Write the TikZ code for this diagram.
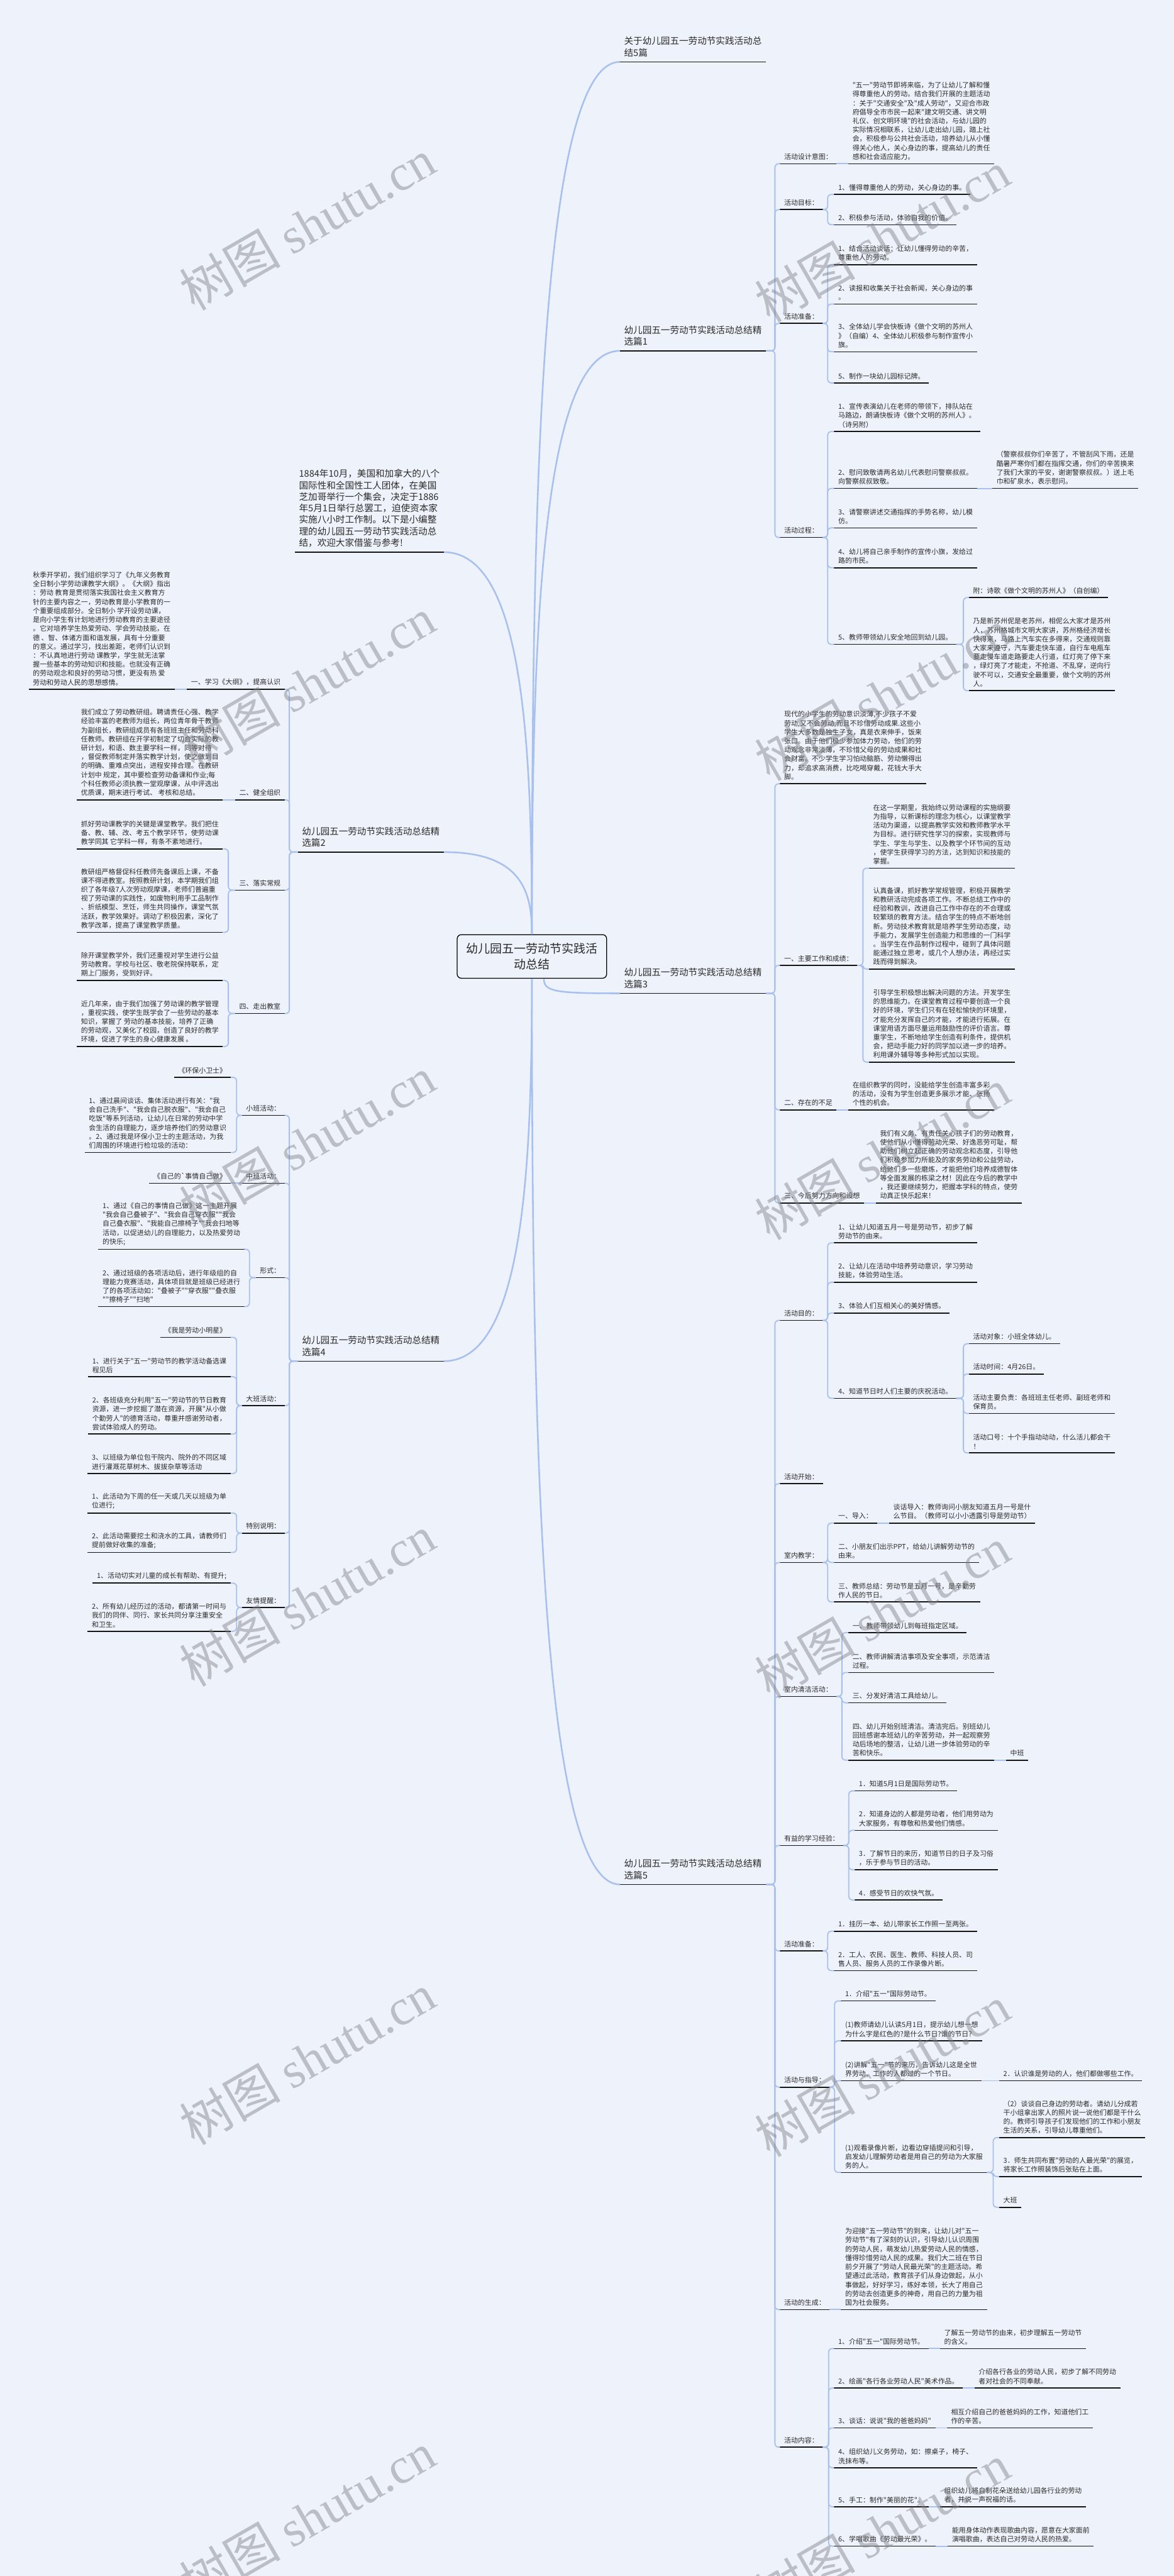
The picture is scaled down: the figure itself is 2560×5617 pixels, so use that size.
\documentclass[tikz,border=0pt]{standalone}
\usepackage{fontspec}
\setmainfont{Noto Sans CJK SC}[Ligatures=TeXOff]
\newfontfamily\wmserif{Liberation Serif}[Ligatures=TeXOff]
\usetikzlibrary{calc}
\definecolor{bg}{HTML}{EEF2FA}
\definecolor{lnk}{HTML}{A7C0EE}
\definecolor{txt}{HTML}{2B2B2B}
\definecolor{ulc}{HTML}{151515}
\definecolor{wmc}{HTML}{7E8086}
\tikzset{
 tx/.style={font=\fontsize{15}{19.5}\selectfont, text=txt, align=left, inner sep=0pt},
 lv1/.style={font=\fontsize{20}{25}\selectfont, yshift=3pt},
 ul/.style={draw=ulc, line width=2.2pt},
 lk/.style={draw=lnk, line width=2.5pt, rounded corners=8pt},
 rlk/.style={draw=lnk, line width=3.5pt},
 wm/.style={text=wmc, opacity=0.45, font=\fontsize{110}{110}\selectfont, rotate=30, inner sep=0pt},
 rootbox/.style={draw=black, line width=1.8pt, rounded corners=9pt, fill=bg, minimum width=326pt, minimum height=95pt, align=center, font=\fontsize{26}{34}\selectfont, text=txt}
}
% right node: name, x of underline start, y of underline, style, text
\newcommand\mmR[5]{%
 \coordinate (#1-l) at (#2,#3);
 \node[tx,#4,anchor=south west] (#1) at (#2+9,#3-8) {#5};
 \path (#1.east |- #1-l) ++(9,0) coordinate (#1-r);
 \draw[ul] (#1-l) -- (#1-r);}
% left node: name, x of underline end, y, style, text
\newcommand\mmL[5]{%
 \coordinate (#1-r) at (#2,#3);
 \node[tx,#4,anchor=south east] (#1) at (#2-9,#3-8) {#5};
 \path (#1.west |- #1-r) ++(-9,0) coordinate (#1-l);
 \draw[ul] (#1-l) -- (#1-r);}
\newcommand\brR[4]{\draw[lk] (#1-r) -- (#3,#2) |- (#4-l);}
\newcommand\brL[4]{\draw[lk] (#1-l) -- (#3,#2) |- (#4-r);}
\newcommand\lnkR[2]{\draw[lk] (#1-r) -- (#2-l);}
\newcommand\lnkL[2]{\draw[lk] (#1-l) -- (#2-r);}

\begin{document}
\begin{tikzpicture}[x=1pt,y=-1pt]
\useasboundingbox (0,0) rectangle (2560,5617);
\fill[bg] (0,0) rectangle (2560,5617);

% root
\node[rootbox] (R) at (1160,2085.5) {幼儿园五一劳动节实践活\\动总结};

% level 1
\mmR{T0}{1352}{135}{lv1}{关于幼儿园五一劳动节实践活动总\\结5篇}
\mmR{P1}{1352}{765}{lv1}{幼儿园五一劳动节实践活动总结精\\选篇1}
\mmR{P3}{1352}{2166}{lv1}{幼儿园五一劳动节实践活动总结精\\选篇3}
\mmR{P5}{1352}{4109}{lv1}{幼儿园五一劳动节实践活动总结精\\选篇5}
\mmL{P0}{968}{1204}{lv1}{1884年10月，美国和加拿大的八个\\国际性和全国性工人团体，在美国\\芝加哥举行一个集会，决定于1886\\年5月1日举行总罢工，迫使资本家\\实施八小时工作制。以下是小编整\\理的幼儿园五一劳动节实践活动总\\结，欢迎大家借鉴与参考!}
\mmL{P2}{968}{1858}{lv1}{幼儿园五一劳动节实践活动总结精\\选篇2}
\mmL{P4}{968}{2968}{lv1}{幼儿园五一劳动节实践活动总结精\\选篇4}

\draw[rlk] (R.north) .. controls (1160,1086) and (1179,135) .. (T0-l);
\draw[rlk] (R.north) .. controls (1160,1401) and (1179,765) .. (P1-l);
\draw[rlk] (R.north) .. controls (1160,1621) and (1141,1204) .. (P0-r);
\draw[rlk] (R.north) .. controls (1160,1948) and (1141,1858) .. (P2-r);
\draw[rlk] ($(R.south)+(26,0)$) .. controls (1186,2162) and (1210,2166) .. (P3-l);
\draw[rlk] (R.south) .. controls (1160,2550) and (1141,2968) .. (P4-r);
\draw[rlk] (R.south) .. controls (1160,3121) and (1179,4109) .. (P5-l);

% ===== Part 1 =====
\mmR{a1}{1701}{357}{}{活动设计意图：}
\mmR{a1t}{1850}{357}{}{"五一"劳动节即将来临，为了让幼儿了解和懂\\得尊重他人的劳动。结合我们开展的主题活动\\：关于"交通安全"及"成人劳动"，又迎合市政\\府倡导全市市民一起来"建文明交通、讲文明\\礼仪、创文明环境"的社会活动，与幼儿园的\\实际情况相联系，让幼儿走出幼儿园，踏上社\\会，积极参与公共社会活动，培养幼儿从小懂\\得关心他人，关心身边的事，提高幼儿的责任\\感和社会适应能力。}
\mmR{a2}{1701}{457}{}{活动目标：}
\mmR{a2a}{1819}{424}{}{1、懂得尊重他人的劳动，关心身边的事。}
\mmR{a2b}{1819}{490}{}{2、积极参与活动，体验自我的价值。}
\mmR{a3}{1701}{705}{}{活动准备：}
\mmR{a3a}{1819}{577}{}{1、结合活动谈话：让幼儿懂得劳动的辛苦，\\尊重他人的劳动。}
\mmR{a3b}{1819}{663}{}{2、读报和收集关于社会新闻，关心身边的事\\。}
\mmR{a3c}{1819}{767}{}{3、全体幼儿学会快板诗《做个文明的苏州人\\》（自编）4、全体幼儿积极参与制作宣传小\\旗。}
\mmR{a3d}{1819}{835}{}{5、制作一块幼儿园标记牌。}
\mmR{a4}{1701}{1172}{}{活动过程：}
\mmR{a4a}{1819}{941}{}{1、宣传表演幼儿在老师的带领下，排队站在\\马路边，朗诵快板诗《做个文明的苏州人》。\\（诗另附）}
\mmR{a4b}{1819}{1065}{}{2、慰问致敬请两名幼儿代表慰问警察叔叔。\\向警察叔叔致敬。}
\mmR{a4bt}{2164}{1065}{}{（警察叔叔你们辛苦了，不管刮风下雨，还是\\酷暑严寒你们都在指挥交通，你们的辛苦换来\\了我们大家的平安，谢谢警察叔叔。）送上毛\\巾和矿泉水，表示慰问。}
\mmR{a4c}{1819}{1151}{}{3、请警察讲述交通指挥的手势名称，幼儿模\\仿。}
\mmR{a4d}{1819}{1238}{}{4、幼儿将自己亲手制作的宣传小旗，发给过\\路的市民。}
\mmR{a4e}{1819}{1405}{}{5、教师带领幼儿安全地回到幼儿园。}
\mmR{a4e1}{2113}{1303}{}{附：诗歌《做个文明的苏州人》（自创编）}
\mmR{a4e2}{2113}{1506}{}{乃是新苏州伲是老苏州，相伲么大家才是苏州\\人，苏州格城市文明大家讲，苏州格经济增长\\快得来，马路上汽车实在多得来，交通规则靠\\大家来遵守，汽车要走快车道，自行车电瓶车\\要走慢车道走路要走人行道，红灯亮了停下来\\，绿灯亮了才能走，不抢道、不乱穿，逆向行\\驶不可以，交通安全最重要，做个文明的苏州\\人。}

\foreach \c in {a1,a2,a3,a4} {\brR{P1}{765}{1690}{\c}}
\lnkR{a1}{a1t}
\foreach \c in {a2a,a2b} {\brR{a2}{457}{1805}{\c}}
\foreach \c in {a3a,a3b,a3c,a3d} {\brR{a3}{705}{1805}{\c}}
\foreach \c in {a4a,a4b,a4c,a4d,a4e} {\brR{a4}{1172}{1805}{\c}}
\lnkR{a4b}{a4bt}
\foreach \c in {a4e1,a4e2} {\brR{a4e}{1405}{2101}{\c}}

% ===== Part 3 =====
\mmR{b1}{1701}{1709}{}{现代的小学生的劳动意识淡薄,不少孩子不爱\\劳动,又不会劳动,而且不珍惜劳动成果.这些小\\学生大多数是独生子女，真是衣来伸手，饭来\\张口。由于他们极少参加体力劳动，他们的劳\\动观念非常淡薄，不珍惜父母的劳动成果和社\\会财富。不少学生学习怕动脑筋、劳动懒得出\\力，却追求高消费，比吃喝穿戴，花钱大手大\\脚。}
\mmR{b2}{1701}{2105}{}{一、主要工作和成绩：}
\mmR{b2a}{1895}{1893}{}{在这一学期里，我始终以劳动课程的实施纲要\\为指导，以新课标的理念为核心，以课堂教学\\活动为渠道，以提高教学实效和教师教学水平\\为目标。进行研究性学习的探索，实现教师与\\学生、学生与学生、以及教学个环节间的互动\\，使学生获得学习的方法，达到知识和技能的\\掌握。}
\mmR{b2b}{1895}{2113}{}{认真备课，抓好教学常规管理，积极开展教学\\和教研活动完成各项工作。不断总结工作中的\\经验和教训，改进自己工作中存在的不合理或\\较繁琐的教育方法。结合学生的特点不断地创\\新。劳动技术教育就是培养学生劳动态度，动\\手能力，发展学生创造能力和思维的一门科学\\。当学生在作品制作过程中，碰到了具体问题\\能通过独立思考，或几个人想办法，再经过实\\践而得到解决。}
\mmR{b2c}{1895}{2316}{}{引导学生积极想出解决问题的方法。开发学生\\的思维能力。在课堂教育过程中要创造一个良\\好的环境，学生们只有在轻松愉快的环境里，\\才能充分发挥自己的才能，才能进行拓展。在\\课堂用语方面尽量运用鼓励性的评价语言。尊\\重学生，不断地给学生创造有利条件，提供机\\会，把动手能力好的同学加以进一步的培养。\\利用课外辅导等多种形式加以实现。}
\mmR{b3}{1701}{2420}{}{二、存在的不足}
\mmR{b3t}{1850}{2420}{}{在组织教学的同时，没能给学生创造丰富多彩\\的活动，没有为学生创造更多展示才能、张扬\\个性的机会。}
\mmR{b4}{1701}{2623}{}{三、今后努力方向和设想}
\mmR{b4t}{1910}{2623}{}{我们有义务、有责任关心孩子们的劳动教育，\\使他们从小懂得劳动光荣、好逸恶劳可耻，帮\\助他们树立起正确的劳动观念和态度，引导他\\们积极参加力所能及的家务劳动和公益劳动，\\给他们多一些磨炼，才能把他们培养成德智体\\等全面发展的栋梁之材！因此在今后的教学中\\，我还要继续努力，把握本学科的特点，使劳\\动真正快乐起来！}

\foreach \c in {b1,b2,b3,b4} {\brR{P3}{2166}{1690}{\c}}
\foreach \c in {b2a,b2b,b2c} {\brR{b2}{2105}{1882}{\c}}
\lnkR{b3}{b3t}
\lnkR{b4}{b4t}

% ===== Part 5 =====
\mmR{c1}{1701}{2879}{}{活动目的：}
\mmR{c1a}{1819}{2710}{}{1、让幼儿知道五月一号是劳动节，初步了解\\劳动节的由来。}
\mmR{c1b}{1819}{2796}{}{2、让幼儿在活动中培养劳动意识，学习劳动\\技能，体验劳动生活。}
\mmR{c1c}{1819}{2863}{}{3、体验人们互相关心的美好情感。}
\mmR{c1d}{1819}{3049}{}{4、知道节日时人们主要的庆祝活动。}
\mmR{c1d1}{2113}{2930}{}{活动对象：小班全体幼儿。}
\mmR{c1d2}{2113}{2996}{}{活动时间：4月26日。}
\mmR{c1d3}{2113}{3082}{}{活动主要负责：各班班主任老师、副班老师和\\保育员。}
\mmR{c1d4}{2113}{3168}{}{活动口号：十个手指动动动，什么活儿都会干\\！}
\mmR{c2}{1701}{3235}{}{活动开始：}
\mmR{c3}{1701}{3407}{}{室内教学：}
\mmR{c3a}{1819}{3321}{}{一、导入：}
\mmR{c3at}{1939}{3321}{}{谈话导入：教师询问小朋友知道五月一号是什\\么节目。（教师可以小小透露引导是劳动节）}
\mmR{c3b}{1819}{3407}{}{二、小朋友们出示PPT，给幼儿讲解劳动节的\\由来。}
\mmR{c3c}{1819}{3493}{}{三、教师总结：劳动节是五月一号，是辛勤劳\\作人民的节日。}
\mmR{c4}{1701}{3699}{}{室内清洁活动：}
\mmR{c4a}{1850}{3560}{}{一、教师带领幼儿到每班指定区域。}
\mmR{c4b}{1850}{3647}{}{二、教师讲解清洁事项及安全事项，示范清洁\\过程。}
\mmR{c4c}{1850}{3713}{}{三、分发好清洁工具给幼儿。}
\mmR{c4d}{1850}{3838}{}{四、幼儿开始别班清洁。清洁完后。别班幼儿\\回班感谢本班幼儿的辛苦劳动，并一起观察劳\\动后场地的整洁，让幼儿进一步体验劳动的辛\\苦和快乐。}
\mmR{c4dt}{2194}{3838}{}{中班}
\mmR{c5}{1701}{4024}{}{有益的学习经验：}
\mmR{c5a}{1864}{3905}{}{1．知道5月1日是国际劳动节。}
\mmR{c5b}{1864}{3991}{}{2．知道身边的人都是劳动者，他们用劳动为\\大家服务，有尊敬和热爱他们情感。}
\mmR{c5c}{1864}{4077}{}{3．了解节日的来历，知道节日的日子及习俗\\，乐于参与节日的活动。}
\mmR{c5d}{1864}{4143}{}{4．感受节日的欢快气氛。}
\mmR{c6}{1701}{4254}{}{活动准备：}
\mmR{c6a}{1819}{4211}{}{1．挂历一本、幼儿带家长工作照一至两张。}
\mmR{c6b}{1819}{4297}{}{2．工人、农民、医生、教师、科技人员、司\\售人员、服务人员的工作录像片断。}
\mmR{c7}{1701}{4551}{}{活动与指导：}
\mmR{c7a}{1834}{4363}{}{1．介绍"五一"国际劳动节。}
\mmR{c7b}{1834}{4450}{}{(1)教师请幼儿认读5月1日，提示幼儿想一想\\为什么字是红色的?是什么节日?谁的节日?}
\mmR{c7c}{1834}{4537}{}{(2)讲解"五一"节的来历，告诉幼儿这是全世\\界劳动、工作的人都过的一个节日。}
\mmR{c7ct}{2179}{4537}{}{2．认识谁是劳动的人，他们都做哪些工作。}
\mmR{c7d}{1834}{4737}{}{(1)观看录像片断，边看边穿插提问和引导，\\启发幼儿理解劳动者是用自己的劳动为大家服\\务的人。}
\mmR{c7d1}{2179}{4661}{}{（2）谈谈自己身边的劳动者。请幼儿分成若\\干小组拿出家人的照片说一说他们都是干什么\\的。教师引导孩子们发现他们的工作和小朋友\\生活的关系，引导幼儿尊重他们。}
\mmR{c7d2}{2179}{4746}{}{3．师生共同布置"劳动的人最光荣"的展览，\\将家长工作照装饰后张贴在上面。}
\mmR{c7d3}{2179}{4813}{}{大班}
\mmR{c8}{1701}{5036}{}{活动的生成：}
\mmR{c8t}{1834}{5036}{}{为迎接"五一劳动节"的到来，让幼儿对"五一\\劳动节"有了深刻的认识，引导幼儿认识周围\\的劳动人民，萌发幼儿热爱劳动人民的情感，\\懂得珍惜劳动人民的成果。我们大二班在节日\\前夕开展了"劳动人民最光荣"的主题活动。希\\望通过此活动，教育孩子们从身边做起，从小\\事做起，好好学习，练好本领，长大了用自己\\的劳动去创造更多的神奇，用自己的力量为祖\\国为社会服务。}
\mmR{c9}{1701}{5336}{}{活动内容：}
\mmR{c9a}{1819}{5121}{}{1、介绍"五一"国际劳动节。}
\mmR{c9at}{2050}{5121}{}{了解五一劳动节的由来，初步理解五一劳动节\\的含义。}
\mmR{c9b}{1819}{5207}{}{2、绘画"各行各业劳动人民"美术作品。}
\mmR{c9bt}{2125}{5207}{}{介绍各行各业的劳动人民，初步了解不同劳动\\者对社会的不同奉献。}
\mmR{c9c}{1819}{5294}{}{3、谈话：说说"我的爸爸妈妈"}
\mmR{c9ct}{2065}{5294}{}{相互介绍自己的爸爸妈妈的工作，知道他们工\\作的辛苦。}
\mmR{c9d}{1819}{5381}{}{4、组织幼儿义务劳动，如：擦桌子，椅子、\\洗抹布等。}
\mmR{c9e}{1819}{5466}{}{5、手工：制作"美丽的花"。}
\mmR{c9et}{2050}{5466}{}{组织幼儿将自制花朵送给幼儿园各行业的劳动\\者，并说一声祝福的话。}
\mmR{c9f}{1819}{5552}{}{6、学唱歌曲《劳动最光荣》。}
\mmR{c9ft}{2067}{5552}{}{能用身体动作表现歌曲内容，愿意在大家面前\\演唱歌曲，表达自己对劳动人民的热爱。}

\foreach \c in {c1,c2,c3,c4,c5,c6,c7,c8,c9} {\brR{P5}{4109}{1690}{\c}}
\foreach \c in {c1a,c1b,c1c,c1d} {\brR{c1}{2879}{1805}{\c}}
\foreach \c in {c1d1,c1d2,c1d3,c1d4} {\brR{c1d}{3049}{2101}{\c}}
\foreach \c in {c3a,c3b,c3c} {\brR{c3}{3407}{1805}{\c}}
\lnkR{c3a}{c3at}
\foreach \c in {c4a,c4b,c4c,c4d} {\brR{c4}{3699}{1836}{\c}}
\lnkR{c4d}{c4dt}
\foreach \c in {c5a,c5b,c5c,c5d} {\brR{c5}{4024}{1851}{\c}}
\foreach \c in {c6a,c6b} {\brR{c6}{4254}{1805}{\c}}
\foreach \c in {c7a,c7b,c7c,c7d} {\brR{c7}{4551}{1820}{\c}}
\lnkR{c7c}{c7ct}
\foreach \c in {c7d1,c7d2,c7d3} {\brR{c7d}{4737}{2166}{\c}}
\lnkR{c8}{c8t}
\foreach \c in {c9a,c9b,c9c,c9d,c9e,c9f} {\brR{c9}{5336}{1807}{\c}}
\lnkR{c9a}{c9at}
\lnkR{c9b}{c9bt}
\lnkR{c9c}{c9ct}
\lnkR{c9e}{c9et}
\lnkR{c9f}{c9ft}

% ===== Part 2 (left) =====
\mmL{d1}{621}{1503}{}{一、学习《大纲》，提高认识}
\mmL{d1t}{381}{1503}{}{秋季开学初，我们组织学习了《九年义务教育\\全日制小学劳动课教学大纲》。《大纲》指出\\：劳动 教育是贯彻落实我国社会主义教育方\\针的主要内容之一，劳动教育是小学教育的一\\个重要组成部分。全日制小 学开设劳动课，\\是向小学生有计划地进行劳动教育的主要途径\\。它对培养学生热爱劳动、学会劳动技能，在\\德 、智、体诸方面和谐发展，具有十分重要\\的意义。通过学习，找出差距，老师们认识到\\：不认真地进行劳动 课教学，学生就无法掌\\握一些基本的劳动知识和技能。也就没有正确\\的劳动观念和良好的劳动习惯，更没有热 爱\\劳动和劳动人民的思想感情。}
\mmL{d2}{621}{1744}{}{二、健全组织}
\mmL{d2t}{486}{1744}{}{我们成立了劳动教研组。聘请责任心强、教学\\经验丰富的老教师为组长，两位青年骨干教师\\为副组长，教研组成员有各班班主任和劳动科\\任教师。教研组在开学初制定了切合实际的教\\研计划，和语、数主要学科一样，同等对待\\，督促教师制定并落实教学计划，使之做到目\\的明确、重难点突出，进程安排合理。在教研\\计划中 规定，其中要检查劳动备课和作业;每\\个科任教师必须执教一堂观摩课，从中评选出\\优质课，期末进行考试、 考核和总结。}
\mmL{d3}{621}{1941}{}{三、落实常规}
\mmL{d3a}{486}{1851}{}{抓好劳动课教学的关键是课堂教学。我们把住\\备、教、辅、改、考五个教学环节，使劳动课\\教学同其 它学科一样，有条不紊地进行。}
\mmL{d3b}{486}{2033}{}{教研组严格督促科任教师先备课后上课，不备\\课不得进教室。按照教研计划，本学期我们组\\织了各年级7人次劳动观摩课，老师们普遍重\\视了劳动课的实践性，如废物利用手工品制作\\、折纸模型、烹饪，师生共同操作，课堂气氛\\活跃，教学效果好。调动了积极因素，深化了\\教学改革，提高了课堂教学质量。}
\mmL{d4}{621}{2210}{}{四、走出教室}
\mmL{d4a}{486}{2138}{}{除开课堂教学外，我们还重视对学生进行公益\\劳动教育。学校与社区、敬老院保持联系，定\\期上门服务，受到好评。}
\mmL{d4b}{486}{2282}{}{近几年来，由于我们加强了劳动课的教学管理\\，重视实践，使学生既学会了一些劳动的基本\\知识，掌握了 劳动的基本技能，培养了正确\\的劳动观，又美化了校园，创造了良好的教学\\环境，促进了学生的身心健康发展 。}

\foreach \c in {d1,d2,d3,d4} {\brL{P2}{1858}{631}{\c}}
\lnkL{d1}{d1t}
\lnkL{d2}{d2t}
\foreach \c in {d3a,d3b} {\brL{d3}{1941}{498}{\c}}
\foreach \c in {d4a,d4b} {\brL{d4}{2210}{498}{\c}}

% ===== Part 4 (left) =====
\mmL{e1}{621}{2432}{}{小班活动：}
\mmL{e1a}{503}{2349}{}{《环保小卫士》}
\mmL{e1b}{503}{2513}{}{1、通过晨间谈话、集体活动进行有关："我\\会自己洗手"、"我会自己脱衣服"、"我会自己\\吃饭"等系列活动，让幼儿在日常的劳动中学\\会生活的自理能力，逐步培养他们的劳动意识\\。2、通过我是环保小卫士的主题活动，为我\\们周围的环境进行检垃圾的活动：}
\mmL{e2}{621}{2580}{}{中班活动：}
\mmL{e2a}{503}{2580}{}{《自己的`事情自己做》}
\mmL{e3}{621}{2786}{}{形式：}
\mmL{e3a}{533}{2724}{}{1、通过《自己的事情自己做》这一主题开展\\"我会自己叠被子"、"我会自己穿衣服""我会\\自己叠衣服"、"我能自己擦椅子""我会扫地等\\活动，以促进幼儿的自理能力，以及热爱劳动\\的快乐;}
\mmL{e3b}{533}{2849}{}{2、通过班级的各项活动后，进行年级组的自\\理能力竞赛活动，具体项目就是班级已经进行\\了的各项活动如："叠被子""穿衣服""叠衣服\\""擦椅子""扫地"}
\mmL{e4}{621}{3065}{}{大班活动：}
\mmL{e4a}{503}{2916}{}{《我是劳动小明星》}
\mmL{e4b}{503}{3002}{}{1、进行关于"五一"劳动节的教学活动备选课\\程见后}
\mmL{e4c}{503}{3127}{}{2、各班级充分利用"五一"劳动节的节日教育\\资源，进一步挖掘了潜在资源，开展"从小做\\个勤劳人"的德育活动，尊重并感谢劳动者，\\尝试体验成人的劳动。}
\mmL{e4d}{503}{3213}{}{3、以班级为单位包干院内、院外的不同区域\\进行灌溉花草树木、拔拔杂草等活动}
\mmL{e5}{621}{3343}{}{特别说明：}
\mmL{e5a}{503}{3299}{}{1、此活动为下周的任一天或几天以班级为单\\位进行;}
\mmL{e5b}{503}{3385}{}{2、此活动需要挖土和浇水的工具，请教师们\\提前做好收集的准备;}
\mmL{e6}{621}{3505}{}{友情提醒：}
\mmL{e6a}{503}{3452}{}{1、活动切实对儿童的成长有帮助、有提升;}
\mmL{e6b}{503}{3557}{}{2、所有幼儿经历过的活动，都请第一时间与\\我们的同伴、同行、家长共同分享注重安全\\和卫生。}

\foreach \c in {e1,e2,e3,e4,e5,e6} {\brL{P4}{2968}{631}{\c}}
\foreach \c in {e1a,e1b} {\brL{e1}{2432}{516}{\c}}
\lnkL{e2}{e2a}
\foreach \c in {e3a,e3b} {\brL{e3}{2786}{544}{\c}}
\foreach \c in {e4a,e4b,e4c,e4d} {\brL{e4}{3065}{516}{\c}}
\foreach \c in {e5a,e5b} {\brL{e5}{3343}{516}{\c}}
\foreach \c in {e6a,e6b} {\brL{e6}{3505}{516}{\c}}

% watermarks
\foreach \k in {0,...,5} {
 \node[wm] (wl\k) at (670,490+1000*\k) {树图 {\wmserif shutu.cn}};
 \node[wm] (wr\k) at (1924,516+1000*\k) {树图 {\wmserif shutu.cn}};
}
\end{tikzpicture}
\end{document}
